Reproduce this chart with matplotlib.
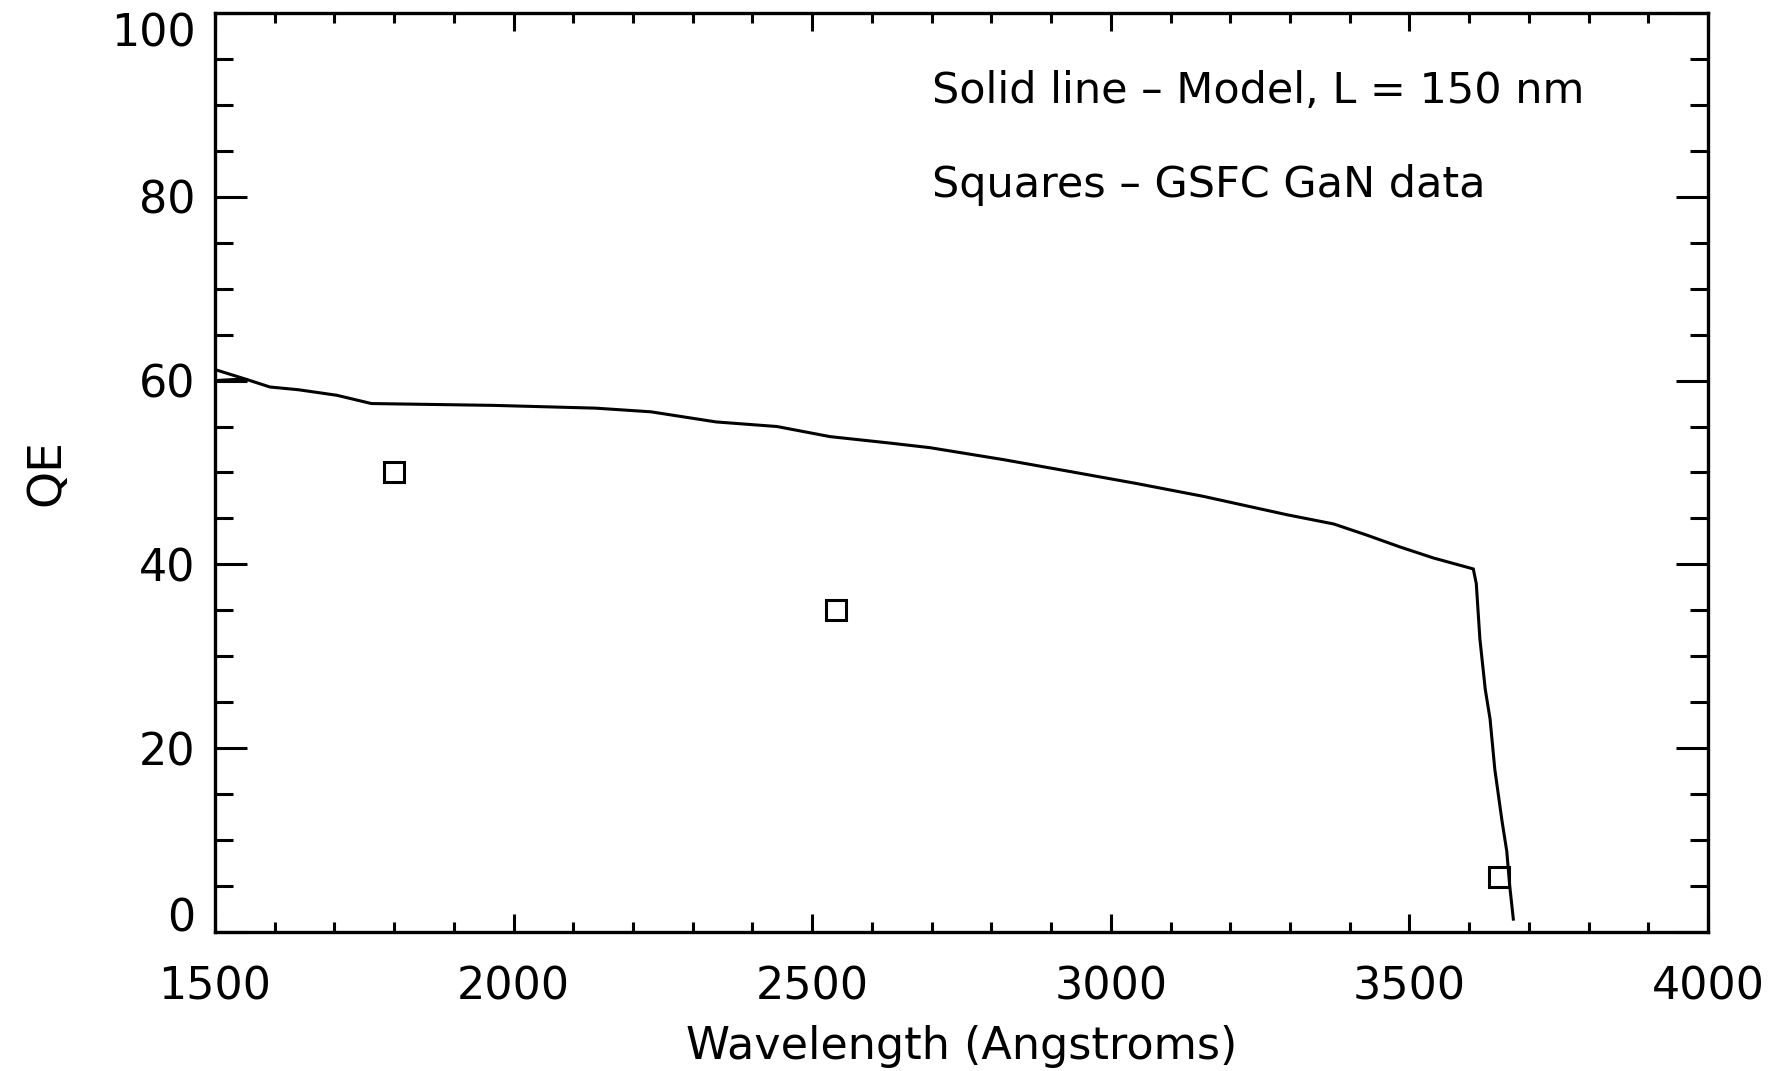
import matplotlib.pyplot as plt
from matplotlib.ticker import MultipleLocator

# model QE curve (wavelength in Angstroms, QE in percent)
model_wl = [1500, 1554, 1500, 1554, 1592, 1640, 1704, 1762, 1967, 2137,
            2230, 2339, 2441, 2530, 2630, 2697, 2820, 2932, 3043, 3155,
            3295, 3373, 3428, 3484, 3540, 3596, 3607, 3612, 3618, 3627,
            3635, 3643, 3655, 3663, 3668, 3674]
model_qe = [61.2, 60.1, 60.0, 60.1, 59.3, 59.0, 58.4, 57.5, 57.3, 57.0,
            56.6, 55.5, 55.0, 53.9, 53.2, 52.7, 51.4, 50.1, 48.8, 47.4,
            45.4, 44.4, 43.2, 41.9, 40.7, 39.7, 39.5, 37.9, 31.9, 26.4,
            23.2, 17.7, 12.1, 8.8, 5.0, 1.4]

# measured GaN points
gsfc_wl = [1800, 2540, 3650]
gsfc_qe = [50, 35, 6]

plt.rcParams['font.family'] = 'DejaVu Sans'
fig = plt.figure(figsize=(17.87, 10.71), dpi=100)
ax = fig.add_axes([0.1203, 0.1298, 0.8355, 0.8581])

ax.plot(model_wl, model_qe, color='black', linewidth=2.2, solid_joinstyle='miter')
ax.plot(gsfc_wl, gsfc_qe, linestyle='none', marker='s', markersize=15,
        markerfacecolor='none', markeredgecolor='black', markeredgewidth=2.2)

ax.set_xlim(1500, 4000)
ax.set_ylim(0, 100)
ax.xaxis.set_major_locator(MultipleLocator(500))
ax.xaxis.set_minor_locator(MultipleLocator(100))
ax.yaxis.set_major_locator(MultipleLocator(20))
ax.yaxis.set_minor_locator(MultipleLocator(5))

for s in ax.spines.values():
    s.set_linewidth(2.4)

ax.tick_params(axis='both', which='both', direction='in', top=True, right=True,
               width=2.2, labelsize=32)
ax.tick_params(axis='x', which='major', length=13, pad=24)
ax.tick_params(axis='x', which='minor', length=7)
ax.tick_params(axis='y', which='major', length=23, pad=14)
ax.tick_params(axis='y', which='minor', length=13)

ax.set_xlabel('Wavelength (Angstroms)', fontsize=32, labelpad=12)
ax.set_ylabel('QE', fontsize=34, labelpad=30)

ax.text(2700, 91.5, 'Solid line – Model, L = 150 nm', fontsize=31, va='center')
ax.text(2700, 81.3, 'Squares – GSFC GaN data', fontsize=31, va='center')

# keep the end labels inside the plot height
fig.canvas.draw()
for tick in ax.yaxis.get_major_ticks():
    loc = tick.get_loc()
    if abs(loc) < 1e-9:
        tick.label1.set_va('baseline')
    elif abs(loc - 100) < 1e-9:
        tick.label1.set_va('top')

plt.savefig('out.png', dpi=100)
